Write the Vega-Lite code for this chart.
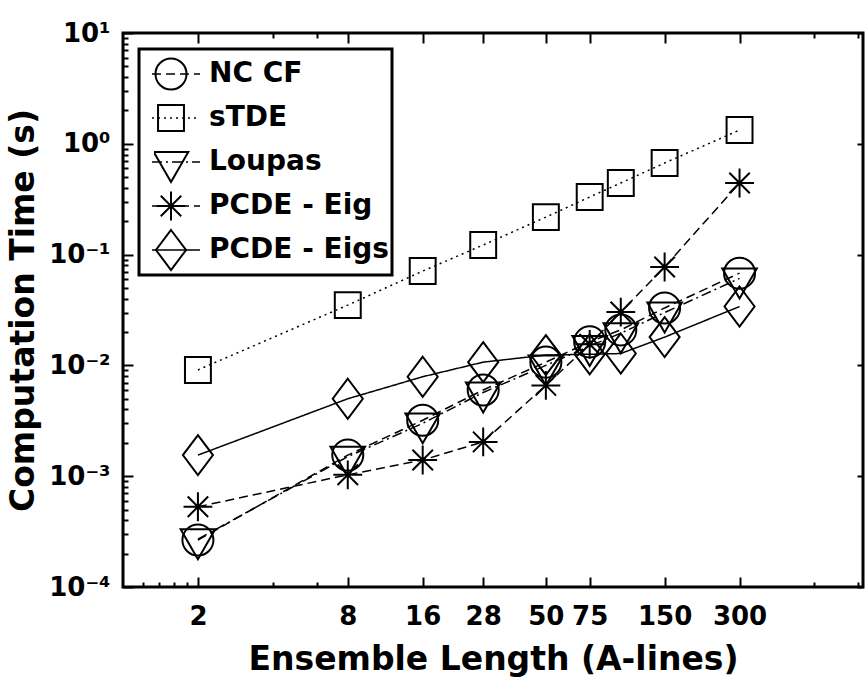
{
  "$schema": "https://vega.github.io/schema/vega-lite/v6.json",
  "width": 740,
  "height": 554,
  "autosize": {"type": "none"},
  "padding": {"left": 123, "top": 33, "right": 2, "bottom": 99},
  "background": "white",
  "config": {
    "font": "DejaVu Sans",
    "view": {"stroke": "black", "strokeWidth": 3},
    "axis": {
      "domain": false, "grid": false, "tickColor": "black", "tickWidth": 2,
      "labelColor": "black", "labelFont": "DejaVu Sans", "labelFontWeight": "bold", "labelFontSize": 26,
      "titleFont": "DejaVu Sans", "titleFontWeight": "bold", "titleFontSize": 33, "titleColor": "black",
      "labelOverlap": false, "labelFlush": false
    },
    "legend": {"strokeWidth": 3}
  },
  "data": {
    "values": [
      {"method": "NC CF", "length": 2, "time": 0.000265},
      {"method": "NC CF", "length": 8, "time": 0.00155},
      {"method": "NC CF", "length": 16, "time": 0.0032},
      {"method": "NC CF", "length": 28, "time": 0.006},
      {"method": "NC CF", "length": 50, "time": 0.0107},
      {"method": "NC CF", "length": 75, "time": 0.0163},
      {"method": "NC CF", "length": 100, "time": 0.0209},
      {"method": "NC CF", "length": 150, "time": 0.033},
      {"method": "NC CF", "length": 300, "time": 0.068},
      {"method": "sTDE", "length": 2, "time": 0.0091},
      {"method": "sTDE", "length": 8, "time": 0.035},
      {"method": "sTDE", "length": 16, "time": 0.071},
      {"method": "sTDE", "length": 28, "time": 0.122},
      {"method": "sTDE", "length": 50, "time": 0.218},
      {"method": "sTDE", "length": 75, "time": 0.331},
      {"method": "sTDE", "length": 100, "time": 0.443},
      {"method": "sTDE", "length": 150, "time": 0.671},
      {"method": "sTDE", "length": 300, "time": 1.33},
      {"method": "Loupas", "length": 2, "time": 0.00027},
      {"method": "Loupas", "length": 8, "time": 0.0015},
      {"method": "Loupas", "length": 16, "time": 0.003},
      {"method": "Loupas", "length": 28, "time": 0.0057},
      {"method": "Loupas", "length": 50, "time": 0.01},
      {"method": "Loupas", "length": 75, "time": 0.015},
      {"method": "Loupas", "length": 100, "time": 0.0195},
      {"method": "Loupas", "length": 150, "time": 0.03},
      {"method": "Loupas", "length": 300, "time": 0.061},
      {"method": "PCDE - Eig", "length": 2, "time": 0.00053},
      {"method": "PCDE - Eig", "length": 8, "time": 0.00103},
      {"method": "PCDE - Eig", "length": 16, "time": 0.0014},
      {"method": "PCDE - Eig", "length": 28, "time": 0.00204},
      {"method": "PCDE - Eig", "length": 50, "time": 0.0066},
      {"method": "PCDE - Eig", "length": 75, "time": 0.0155},
      {"method": "PCDE - Eig", "length": 100, "time": 0.0303},
      {"method": "PCDE - Eig", "length": 150, "time": 0.0773},
      {"method": "PCDE - Eig", "length": 300, "time": 0.443},
      {"method": "PCDE - Eigs", "length": 2, "time": 0.00155},
      {"method": "PCDE - Eigs", "length": 8, "time": 0.005},
      {"method": "PCDE - Eigs", "length": 16, "time": 0.0079},
      {"method": "PCDE - Eigs", "length": 28, "time": 0.0107},
      {"method": "PCDE - Eigs", "length": 50, "time": 0.0124},
      {"method": "PCDE - Eigs", "length": 75, "time": 0.0126},
      {"method": "PCDE - Eigs", "length": 100, "time": 0.0128},
      {"method": "PCDE - Eigs", "length": 150, "time": 0.018},
      {"method": "PCDE - Eigs", "length": 300, "time": 0.034}
    ]
  },
  "layer": [
    {
      "mark": {"type": "line", "color": "black", "strokeWidth": 1.5},
      "encoding": {
        "x": {
          "field": "length", "type": "quantitative",
          "scale": {"type": "log", "domain": [1, 940], "nice": false},
          "axis": {
            "orient": "bottom", "title": "Ensemble Length (A-lines)",
            "values": [2, 8, 16, 28, 50, 75, 150, 300],
            "labelExpr": "'' + datum.value",
            "tickSize": -10, "labelPadding": 26, "titlePadding": 14
          }
        },
        "y": {
          "field": "time", "type": "quantitative",
          "scale": {"type": "log", "domain": [0.0001, 10], "nice": false},
          "axis": {
            "orient": "left", "title": "Computation Time (s)",
            "values": [0.0001, 0.001, 0.01, 0.1, 1, 10],
            "labelExpr": "datum.value == 10 ? '10¹' : datum.value == 1 ? '10⁰' : datum.value == 0.1 ? '10⁻¹' : datum.value == 0.01 ? '10⁻²' : datum.value == 0.001 ? '10⁻³' : '10⁻⁴'",
            "tickSize": -10, "labelPadding": 23, "titlePadding": 8
          }
        },
        "strokeDash": {
          "field": "method", "type": "nominal",
          "scale": {
            "domain": ["NC CF", "sTDE", "Loupas", "PCDE - Eig", "PCDE - Eigs"],
            "range": [[9, 5], [2, 4], [10, 4, 2, 4], [9, 5], [1, 0]]
          },
          "legend": {
            "orient": "top-left", "offset": 16, "title": null,
            "symbolType": "stroke", "symbolSize": 2304, "symbolStrokeWidth": 1.5, "symbolStrokeColor": "black",
            "labelFontSize": 28, "labelFont": "DejaVu Sans", "labelFontWeight": "bold", "labelColor": "black",
            "labelLimit": 400, "labelOffset": 8, "rowPadding": 0, "padding": 3, "symbolOffset": 9,
            "clipHeight": 44,
            "strokeColor": "black", "fillColor": "white"
          }
        }
      }
    },
    {
      "mark": {"type": "point", "filled": false, "color": "black", "strokeWidth": 2, "size": 1024, "opacity": 1},
      "encoding": {
        "x": {
          "field": "length", "type": "quantitative",
          "scale": {"type": "log", "domain": [1, 940], "nice": false},
          "axis": {
            "orient": "top", "title": null, "labels": false,
            "values": [2, 8, 16, 28, 50, 75, 150, 300], "tickSize": -10
          }
        },
        "y": {
          "field": "time", "type": "quantitative",
          "scale": {"type": "log", "domain": [0.0001, 10], "nice": false},
          "axis": {
            "orient": "right", "title": null, "labels": false,
            "values": [0.0001, 0.001, 0.01, 0.1, 1, 10], "tickSize": -6
          }
        },
        "shape": {
          "field": "method", "type": "nominal",
          "scale": {
            "domain": ["NC CF", "sTDE", "Loupas", "PCDE - Eig", "PCDE - Eigs"],
            "range": [
              "M-0.97,0A0.97,0.97,0,1,1,0.97,0A0.97,0.97,0,1,1,-0.97,0Z",
              "M-0.81,-0.81L0.81,-0.81L0.81,0.81L-0.81,0.81Z",
              "M-1.08,-0.62L1.08,-0.62L0,1.25Z",
              "M-0.9,0L0.9,0M0,-0.9L0,0.9M-0.64,-0.64L0.64,0.64M-0.64,0.64L0.64,-0.64",
              "M0,-1.25L0.94,0L0,1.25L-0.94,0Z"
            ]
          },
          "legend": {
            "orient": "none", "legendX": 31, "legendY": 19, "title": null,
            "symbolSize": 1024, "symbolStrokeWidth": 2, "symbolStrokeColor": "black", "symbolFillColor": "transparent",
            "labelFontSize": 28, "labelExpr": "''", "rowPadding": 0, "padding": 0, "clipHeight": 44
          }
        }
      }
    },
    {
      "mark": {"type": "point", "opacity": 0},
      "encoding": {
        "x": {
          "field": "length", "type": "quantitative",
          "scale": {"type": "log", "domain": [1, 940], "nice": false},
          "axis": {
            "orient": "bottom", "title": null, "labels": false,
            "values": [1.2, 1.4, 1.6, 1.8, 4, 6, 600, 900], "tickSize": -5
          }
        },
        "y": {
          "field": "time", "type": "quantitative",
          "scale": {"type": "log", "domain": [0.0001, 10], "nice": false},
          "axis": {
            "orient": "left", "title": null, "labels": false,
            "values": [0.0002, 0.0003, 0.0004, 0.0005, 0.0006, 0.0007, 0.0008, 0.0009, 0.002, 0.003, 0.004, 0.005, 0.006, 0.007, 0.008, 0.009, 0.02, 0.03, 0.04, 0.05, 0.06, 0.07, 0.08, 0.09, 0.2, 0.3, 0.4, 0.5, 0.6, 0.7, 0.8, 0.9, 2, 3, 4, 5, 6, 7, 8, 9],
            "tickSize": -5
          }
        }
      }
    },
    {
      "mark": {"type": "point", "opacity": 0},
      "encoding": {
        "x": {
          "field": "length", "type": "quantitative",
          "scale": {"type": "log", "domain": [1, 940], "nice": false},
          "axis": {
            "orient": "top", "title": null, "labels": false,
            "values": [4, 6, 600, 900], "tickSize": -5
          }
        },
        "y": {
          "field": "time", "type": "quantitative",
          "scale": {"type": "log", "domain": [0.0001, 10], "nice": false},
          "axis": null
        }
      }
    }
  ],
  "resolve": {"axis": {"x": "independent", "y": "independent"}}
}
